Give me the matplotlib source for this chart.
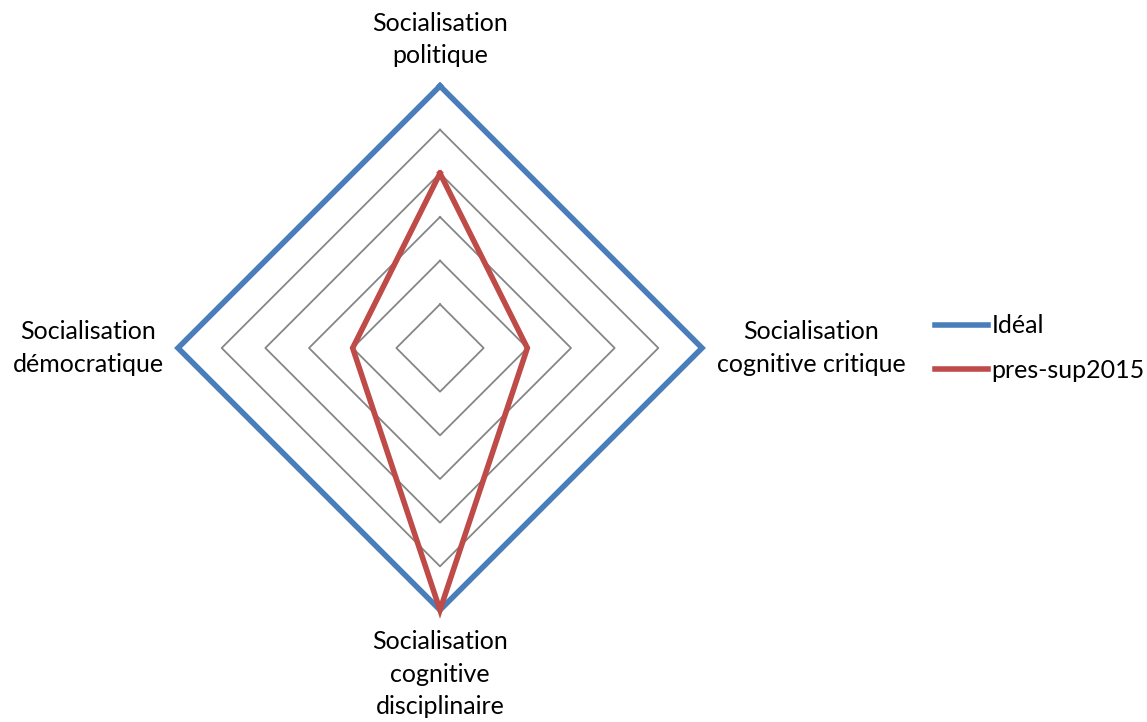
import numpy as np
import matplotlib
matplotlib.use("Agg")
import matplotlib.pyplot as plt

# axes, clockwise from top
categories = ["Socialisation\npolitique",
              "Socialisation\ncognitive critique",
              "Socialisation\ncognitive\ndisciplinaire",
              "Socialisation\ndémocratique"]
ideal = [6, 6, 6, 6]
pres_sup2015 = [4, 2, 6, 2]
rings = [1, 2, 3, 4, 5, 6]

plt.rcParams['font.family'] = ['Lato', 'DejaVu Sans']

fig = plt.figure(figsize=(11.47, 7.22), dpi=100)
ax = fig.add_axes([178/1147, 112/722, 524/1147, 524/722], projection='polar')
ax.set_theta_zero_location('N')
ax.set_theta_direction(-1)

n = len(categories)
theta = np.arange(n) * 2 * np.pi / n
th_closed = np.append(theta, theta[0])

# polygon grid
for r in rings:
    ax.plot(th_closed, [r] * (n + 1), color='#868686', lw=1.3, zorder=1)

ax.plot(th_closed, ideal + ideal[:1], color='#4A7EBB', lw=4, label='Idéal',
        solid_joinstyle='miter', clip_on=False, zorder=3)
ax.plot(th_closed, pres_sup2015 + pres_sup2015[:1], color='#BE4B48', lw=4,
        label='pres-sup2015', solid_joinstyle='miter', clip_on=False, zorder=4)

ax.set_ylim(0, 6)
ax.grid(False)
ax.spines['polar'].set_visible(False)
ax.set_xticks([])
ax.set_yticks([])
ax.patch.set_visible(False)

fs = 18
offsets = [((0, 19), 'center', 'bottom'),
           ((109, 0), 'center', 'center'),
           ((0, -20), 'center', 'top'),
           ((-90, 0), 'center', 'center')]
for t, lab, (off, ha, va) in zip(theta, categories, offsets):
    ax.annotate(lab, xy=(t, 6), xytext=off, textcoords='offset pixels',
                ha=ha, va=va, fontsize=fs, linespacing=1.5, annotation_clip=False)

fig.legend(loc='center left', bbox_to_anchor=(935/1147, 1 - 348/722),
           frameon=False, fontsize=fs, handlelength=2.1, handletextpad=0.15,
           labelspacing=0.85, borderpad=0, borderaxespad=0)

fig.savefig('out.png', dpi=100)
